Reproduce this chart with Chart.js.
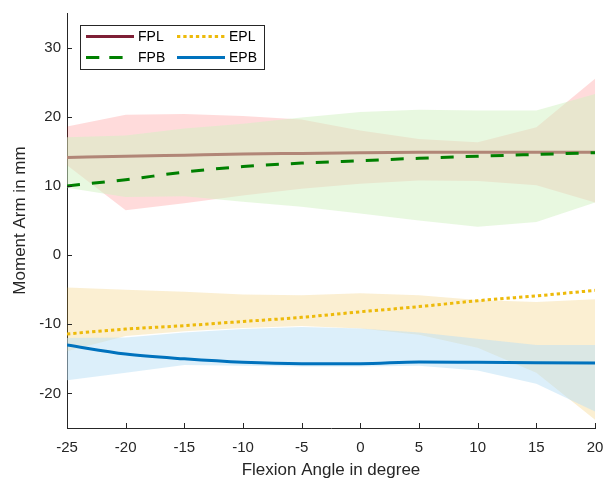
<!DOCTYPE html>
<html>
<head>
<meta charset="utf-8">
<script src="https://cdn.jsdelivr.net/npm/chart.js@4.4.1/dist/chart.umd.min.js"></script>
<style>
  html, body { margin: 0; padding: 0; background: #ffffff; }
  #wrap { width: 605px; height: 483px; }
</style>
</head>
<body>
<div id="wrap"><canvas id="c" width="605" height="483"></canvas></div>
<script>
// ---- data ----
const angles = [-25, -20, -15, -10, -5, 0, 5, 10, 15, 20];
const xTicks = [-25, -20, -15, -10, -5, 0, 5, 10, 15, 20];
const yTicks = [-20, -10, 0, 10, 20, 30];

const fpl      = [14.1, 14.3, 14.45, 14.6, 14.7, 14.8, 14.85, 14.85, 14.85, 14.85];
const fplUpper = [18.6, 20.3, 20.4, 20.1, 19.6, 18.0, 16.8, 16.3, 18.5, 25.5];
const fplLower = [13.0, 6.5, 7.5, 8.6, 9.6, 10.3, 10.8, 10.7, 10.1, 7.6];

const fpb      = [10.0, 10.9, 12.0, 12.8, 13.3, 13.65, 14.0, 14.3, 14.55, 14.8];
const fpbUpper = [17.05, 17.3, 18.3, 19.0, 19.9, 20.7, 21.0, 20.9, 20.9, 23.3];
const fpbLower = [9.75, 8.4, 8.5, 7.7, 7.0, 6.0, 5.0, 4.1, 4.8, 7.6];

const epl      = [-11.4, -10.7, -10.2, -9.6, -9.0, -8.2, -7.45, -6.6, -5.9, -5.1];
const eplUpper = [-4.7, -5.0, -5.3, -5.7, -5.8, -5.5, -5.8, -6.5, -6.8, -6.4];
const eplLower = [-13.9, -11.7, -11.0, -10.55, -10.25, -10.6, -11.5, -13.4, -17.0, -23.8];

const epb      = [-13.0, -14.3, -15.0, -15.5, -15.7, -15.7, -15.45, -15.5, -15.55, -15.6];
const epbUpper = [-12.0, -11.9, -11.2, -10.7, -10.4, -10.6, -11.2, -12.1, -13.0, -13.0];
const epbLower = [-18.1, -17.0, -15.9, -16.0, -16.1, -16.1, -16.0, -16.7, -18.6, -22.6];

const labels = ['FPL', 'FPB', 'EPL', 'EPB'];
// ---------------------------------------

const pts = arr => angles.map((a, i) => ({ x: a, y: arr[i] }));
const AXIS = '#262626';

function lineDs(label, arr, color, dash, order) {
  return {
    label, data: pts(arr), borderColor: color, backgroundColor: color,
    borderWidth: 3, borderDash: dash, pointRadius: 0, fill: false,
    cubicInterpolationMode: 'monotone', order, isMain: true
  };
}
function bandDs(arr, fillTarget, bg, order) {
  return {
    label: '', data: pts(arr), borderColor: 'rgba(0,0,0,0)', borderWidth: 1,
    backgroundColor: bg, pointRadius: 0, fill: fillTarget, tension: 0, order, isMain: false
  };
}

const datasets = [
  lineDs(labels[0], fpl, '#7E1F35', [], 10),
  bandDs(fplUpper, '+1', 'rgba(255,0,0,0.14)', 9),
  bandDs(fplLower, false, 'rgba(0,0,0,0)', 9),
  bandDs(fpbUpper, '+1', 'rgba(209,241,193,0.5)', 8),
  bandDs(fpbLower, false, 'rgba(0,0,0,0)', 8),
  bandDs(eplUpper, '+1', 'rgba(237,177,32,0.2)', 7),
  bandDs(eplLower, false, 'rgba(0,0,0,0)', 7),
  bandDs(epbUpper, '+1', 'rgba(185,223,245,0.5)', 6),
  bandDs(epbLower, false, 'rgba(0,0,0,0)', 6),
  lineDs(labels[1], fpb, '#008000', [13, 12], 3),
  lineDs(labels[2], epl, '#EDBA0A', [3.3, 3], 2),
  lineDs(labels[3], epb, '#0072BD', [], 1)
];

const inwardTicks = {
  id: 'inwardTicks',
  afterDraw(chart) {
    const { ctx, chartArea, scales } = chart;
    ctx.save();
    ctx.strokeStyle = AXIS;
    ctx.lineWidth = 1;
    ctx.beginPath();
    xTicks.forEach(v => {
      const x = Math.round(scales.x.getPixelForValue(v)) + 0.5;
      ctx.moveTo(x, chartArea.bottom);
      ctx.lineTo(x, chartArea.bottom - 5);
    });
    yTicks.forEach(v => {
      const y = Math.round(scales.y.getPixelForValue(v)) + 0.5;
      ctx.moveTo(chartArea.left, y);
      ctx.lineTo(chartArea.left + 5, y);
    });
    ctx.stroke();
    ctx.restore();
  }
};

const boxLegend = {
  id: 'boxLegend',
  afterDraw(chart) {
    const { ctx } = chart;
    const mains = chart.data.datasets.filter(d => d.isMain);
    const bx = 80.5, by = 25.5, bw = 184, bh = 44;
    ctx.save();
    ctx.fillStyle = '#ffffff';
    ctx.fillRect(bx, by, bw, bh);
    ctx.strokeStyle = AXIS;
    ctx.lineWidth = 1;
    ctx.strokeRect(bx, by, bw, bh);
    const cols = [{ lx: 86, tx: 138 }, { lx: 177, tx: 229 }];
    const rows = [36.5, 57.5];
    // column-major: FPL, FPB | EPL, EPB
    mains.forEach((d, i) => {
      const col = cols[Math.floor(i / 2)];
      const y = rows[i % 2];
      ctx.beginPath();
      ctx.strokeStyle = d.borderColor;
      ctx.lineWidth = 3;
      const dash = d.borderDash || [];
      ctx.setLineDash(dash.length && dash[0] > 10 ? [13.3, 10] : dash);
      const len = dash.length && dash[0] > 10 ? 37 : 48;
      ctx.moveTo(col.lx, y);
      ctx.lineTo(col.lx + len, y);
      ctx.stroke();
      ctx.setLineDash([]);
      ctx.fillStyle = '#000000';
      ctx.font = '14px "Liberation Sans", Arial, sans-serif';
      ctx.textBaseline = 'middle';
      ctx.textAlign = 'left';
      ctx.fillText(d.label, col.tx, y + 1);
    });
    ctx.restore();
  }
};

new Chart(document.getElementById('c'), {
  type: 'line',
  data: { datasets },
  options: {
    responsive: false,
    animation: false,
    events: [],
    devicePixelRatio: 1,
    layout: { padding: { top: 13, right: 10, left: 0, bottom: 0 } },
    plugins: {
      legend: { display: false },
      tooltip: { enabled: false },
      filler: { propagate: false }
    },
    scales: {
      x: {
        type: 'linear', min: -25, max: 20,
        afterBuildTicks: s => { s.ticks = xTicks.map(v => ({ value: v })); },
        afterFit: s => { s.height = 55; s.paddingLeft = 0; s.paddingRight = 0; },
        grid: { display: false, drawTicks: false, tickLength: 0 },
        border: { display: true, color: AXIS, width: 1 },
        ticks: {
          color: AXIS, padding: 11, maxRotation: 0, autoSkip: false,
          font: { family: '"Liberation Sans", Arial, sans-serif', size: 15 },
          callback: v => String(v)
        },
        title: {
          display: true, text: 'Flexion Angle in degree', color: AXIS,
          font: { family: '"Liberation Sans", Arial, sans-serif', size: 17 },
          padding: { top: 0, bottom: 2 }
        }
      },
      y: {
        type: 'linear', min: -25, max: 35,
        afterBuildTicks: s => { s.ticks = yTicks.map(v => ({ value: v })); },
        afterFit: s => { s.width = 67; s.paddingTop = 0; s.paddingBottom = 0; },
        grid: { display: false, drawTicks: false, tickLength: 0 },
        border: { display: true, color: AXIS, width: 1 },
        ticks: {
          color: AXIS, padding: 6, autoSkip: false,
          font: { family: '"Liberation Sans", Arial, sans-serif', size: 15 },
          callback: v => String(v)
        },
        title: {
          display: true, text: 'Moment Arm in mm', color: AXIS,
          font: { family: '"Liberation Sans", Arial, sans-serif', size: 17 },
          padding: { top: 10, bottom: 0 }
        }
      }
    }
  },
  plugins: [inwardTicks, boxLegend]
});
</script>
</body>
</html>
